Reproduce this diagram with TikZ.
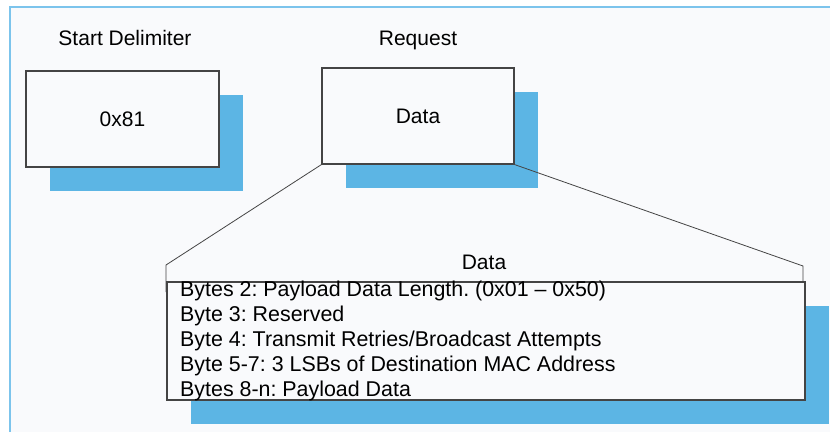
\documentclass[tikz,border=0pt]{standalone}
\usepackage{fontspec}
\setmainfont{Liberation Sans}
\usetikzlibrary{shadows}
\definecolor{frameblue}{HTML}{7CC4EC}
\definecolor{shadowblue}{HTML}{5CB5E4}
\definecolor{paper}{HTML}{F9FAFC}
\definecolor{edgegray}{HTML}{444444}
\frenchspacing

\begin{document}
\begin{tikzpicture}[x=1pt,y=-1pt,font=\fontsize{21}{25}\selectfont,
	field/.style={draw=edgegray,fill=paper,line width=1.1pt,inner sep=0pt,
		drop shadow={shadow xshift=24pt,shadow yshift=-24pt,fill=shadowblue,opacity=1}},
	caption/.style={anchor=base,inner sep=0pt},
	entry/.style={anchor=base west,inner sep=0pt,font=\fontsize{21.4}{25}\selectfont},
	zoomline/.style={draw=edgegray,line width=0.8pt}]
			\useasboundingbox (0,0) rectangle (830,432);
			\fill[paper] (10,7) rectangle (830,432);
			\draw[frameblue,line width=1.5pt] (10,432) -- (10,7) -- (830,7);
			% frame fields
			\node[field,minimum width=193pt,minimum height=96pt](delim) at (122.5,119) {0x81};
			\node[field,minimum width=192pt,minimum height=96pt](req) at (418,116) {Data};
			\node[caption](delimlabel) at (125,45) {Start Delimiter};
			\node[caption](reqlabel) at (418,45) {Request};
			% expansion of the data field
			\coordinate (zl) at (166,265);
			\coordinate (zr) at (803,266);
			\path[zoomline]
			(req.south west) -- (zl) -- ++(0,27)
			(req.south east) -- (zr) -- ++(0,15);
			\node[field,minimum width=638pt,minimum height=118pt](payload) at (486,341) {};
			\node[caption](payloadlabel) at (484,269) {Data};
			\foreach \t [count=\i from 0] in {{Bytes 2: Payload Data Length. (0x01 -- 0x50)},
				{Byte 3: Reserved},
				{Byte 4: Transmit Retries/Broadcast Attempts},
				{Byte 5-7: 3 LSBs of Destination MAC Address},
				{Bytes 8-n: Payload Data}}
			\node[entry](line\i) at (180,296.7+25*\i) {\t};
			\end{tikzpicture}
\end{document}
